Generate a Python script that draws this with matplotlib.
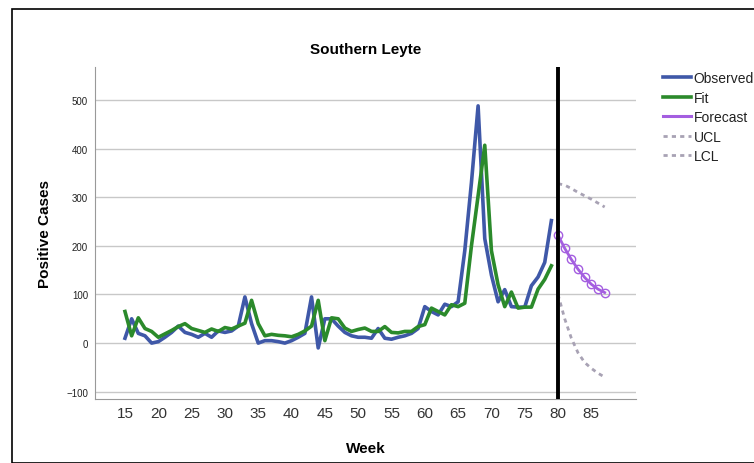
import matplotlib
matplotlib.use("Agg")
import matplotlib.pyplot as plt
from matplotlib.patches import Rectangle
from matplotlib.lines import Line2D

plt.rcParams['font.family'] = ['Liberation Sans', 'DejaVu Sans']

# observed / fitted weekly positive cases, weeks 15-79
weeks = list(range(15, 80))
observed = [10, 50, 20, 15, 0, 3, 12, 22, 35, 22,
            18, 12, 20, 12, 25, 22, 25, 35, 95, 40,
            0, 5, 5, 3, 0, 5, 12, 20, 95, -10,
            50, 50, 35, 22, 15, 12, 12, 10, 30, 10,
            8, 12, 15, 20, 30, 75, 65, 58, 80, 75,
            85, 190, 330, 488, 215, 140, 85, 110, 75, 74,
            74, 118, 136, 166, 252]
fit = [65, 15, 52, 30, 24, 12, 19, 26, 34, 40,
       30, 26, 22, 29, 24, 32, 29, 35, 41, 88,
       40, 15, 18, 16, 15, 13, 18, 25, 35, 88,
       5, 52, 50, 31, 24, 28, 31, 24, 24, 34,
       22, 21, 24, 24, 34, 38, 72, 65, 58, 79,
       75, 82, 200, 303, 407, 190, 120, 75, 105, 72,
       74, 74, 111, 131, 159]

# forecast, weeks 80-87
fc_weeks = list(range(80, 88))
forecast = [222, 195, 172, 152, 135, 121, 111, 104]
ucl = [328, 325, 318, 310, 303, 296, 288, 280]
lcl = [100, 50, 10, -20, -40, -52, -62, -70]

blue = '#3F58A8'
green = '#2B8A2B'
purple = '#A45EE0'
grey = '#A8A2B4'
dots = (0, (1.5, 1.5))

fig = plt.figure(figsize=(7.54, 4.64), dpi=100)
fig.patches.append(Rectangle((12 / 754, 0), 1.0, 1 - 10 / 464, transform=fig.transFigure,
                             fill=False, edgecolor='black', linewidth=1.2))
ax = fig.add_axes([95 / 754, 1 - 400 / 464, (636 - 95) / 754, (400 - 68) / 464])

ax.plot(weeks, observed, color=blue, linewidth=2.6, zorder=3)
ax.plot(weeks, fit, color=green, linewidth=2.6, zorder=3)
ax.plot(fc_weeks, forecast, color=purple, linewidth=2, marker='o', markersize=6,
        markerfacecolor='none', markeredgewidth=1, zorder=4)
ax.plot(fc_weeks, ucl, color=grey, linewidth=2, linestyle=dots)
ax.plot(fc_weeks, lcl, color=grey, linewidth=2, linestyle=dots)
ax.axvline(80, color='black', linewidth=2.8, zorder=5)

ax.set_xlim(10.5, 91.7)
ax.set_ylim(-115, 568)
ax.set_xticks(range(15, 90, 5))
ax.set_yticks(range(-100, 600, 100))
ax.tick_params(axis='x', length=0, labelsize=11, labelcolor='#333333', pad=5)
ax.tick_params(axis='y', length=0, labelsize=7, labelcolor='#222222', pad=5)
ax.grid(axis='y', color='#C8C8C8', linewidth=1)
ax.set_axisbelow(True)
for s in ['top', 'right']:
    ax.spines[s].set_visible(False)
for s in ['left', 'bottom']:
    ax.spines[s].set_color('#999999')

ax.set_title('Southern Leyte', fontsize=11, fontweight='bold', pad=10)
ax.set_xlabel('Week', fontsize=11, fontweight='bold', labelpad=15)
ax.set_ylabel('Positive Cases', fontsize=11, fontweight='bold', labelpad=10)

handles = [Line2D([], [], color=blue, linewidth=2.6),
           Line2D([], [], color=green, linewidth=2.6),
           Line2D([], [], color=purple, linewidth=2.2),
           Line2D([], [], color=grey, linewidth=2, linestyle=dots),
           Line2D([], [], color=grey, linewidth=2, linestyle=dots)]
fig.legend(handles, ['Observed', 'Fit', 'Forecast', 'UCL', 'LCL'],
           loc='upper left', bbox_to_anchor=(663 / 754, 1 - 72 / 464), frameon=False,
           fontsize=10, handlelength=2.0, handletextpad=0.2, labelspacing=0.4,
           borderpad=0, borderaxespad=0, labelcolor='#222222')

fig.savefig('out.png', dpi=100)
